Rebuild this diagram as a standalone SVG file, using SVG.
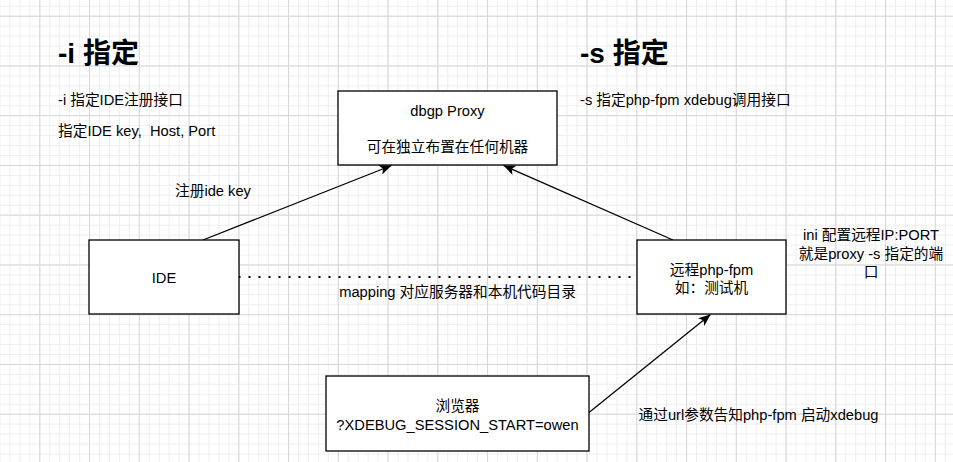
<svg xmlns="http://www.w3.org/2000/svg" width="953" height="462" viewBox="0 0 953 462">
  <style>
    text { font-family: "Liberation Sans", "Noto Sans CJK SC", sans-serif; font-size: 14.7px; fill: #000; }
    .title { font-size: 28px; font-weight: bold; }
    .c { text-anchor: middle; }
    .box { fill: #fff; stroke: #000; stroke-width: 1.3; }
    .edge { fill: none; stroke: #000; stroke-width: 1.3; }
    .dotted { fill: none; stroke: #000; stroke-width: 2; stroke-dasharray: 2 8; }
  </style>
  <defs>
    <pattern id="minor" patternUnits="userSpaceOnUse" x="39.3" y="15.7" width="9.95" height="9.95">
      <path d="M0.5,0 V9.95 M0,0.5 H9.95" stroke="#eeeeee" stroke-width="1" fill="none"/>
    </pattern>
    <pattern id="major" patternUnits="userSpaceOnUse" x="39.3" y="15.7" width="49.75" height="49.75">
      <path d="M0.5,0 V49.75 M0,0.5 H49.75" stroke="#d6d6d6" stroke-width="1" fill="none"/>
    </pattern>
    <marker id="arrow" markerUnits="userSpaceOnUse" viewBox="0 0 12 10" refX="12" refY="5" markerWidth="12" markerHeight="10" orient="auto">
      <path d="M0,0 L12,5 L0,10 L3,5 z" fill="#000"/>
    </marker>
  </defs>
  <rect width="953" height="462" fill="#fff"/>
  <rect width="953" height="462" fill="url(#minor)"/>
  <rect width="953" height="462" fill="url(#major)"/>

  <g id="connectors">
    <line class="edge" x1="203" y1="240" x2="391.5" y2="165.5" marker-end="url(#arrow)"/>
    <line class="edge" x1="673" y1="240" x2="503.5" y2="165.5" marker-end="url(#arrow)"/>
    <line class="edge" x1="589" y1="412.5" x2="710.5" y2="314.5" marker-end="url(#arrow)"/>
    <line class="dotted" x1="238.5" y1="277" x2="637" y2="277"/>
    <text x="175" y="196">注册ide key</text>
    <text class="c" x="457.5" y="297">mapping 对应服务器和本机代码目录</text>
    <text x="638.5" y="420">通过url参数告知php-fpm 启动xdebug</text>
  </g>

  <g id="title-i">
    <text class="title" x="58" y="63">-i 指定</text>
    <text x="58" y="104.5">-i 指定IDE注册接口</text>
    <text x="58" y="136" xml:space="preserve">指定IDE key,  Host, Port</text>
  </g>

  <g id="title-s">
    <text class="title" x="580" y="63">-s 指定</text>
    <text x="580" y="105">-s 指定php-fpm xdebug调用接口</text>
  </g>

  <g id="proxy">
    <rect class="box" x="338" y="91" width="219" height="74"/>
    <text class="c" x="447.5" y="116">dbgp Proxy</text>
    <text class="c" x="447.5" y="152">可在独立布置在任何机器</text>
  </g>

  <g id="ide">
    <rect class="box" x="89" y="240" width="150" height="74"/>
    <text class="c" x="164" y="283">IDE</text>
  </g>

  <g id="php-fpm">
    <rect class="box" x="637" y="240" width="149" height="74"/>
    <text class="c" x="711.5" y="275">远程php-fpm</text>
    <text class="c" x="711.5" y="293">如：测试机</text>
  </g>

  <g id="ini-note">
    <text class="c" x="871" y="240.3">ini 配置远程IP:PORT</text>
    <text class="c" x="871" y="258.6">就是proxy -s 指定的端</text>
    <text class="c" x="871" y="277">口</text>
  </g>

  <g id="browser">
    <rect class="box" x="326" y="376" width="263" height="75"/>
    <text class="c" x="457.5" y="411">浏览器</text>
    <text class="c" x="457.5" y="429.5">?XDEBUG_SESSION_START=owen</text>
  </g>
</svg>
